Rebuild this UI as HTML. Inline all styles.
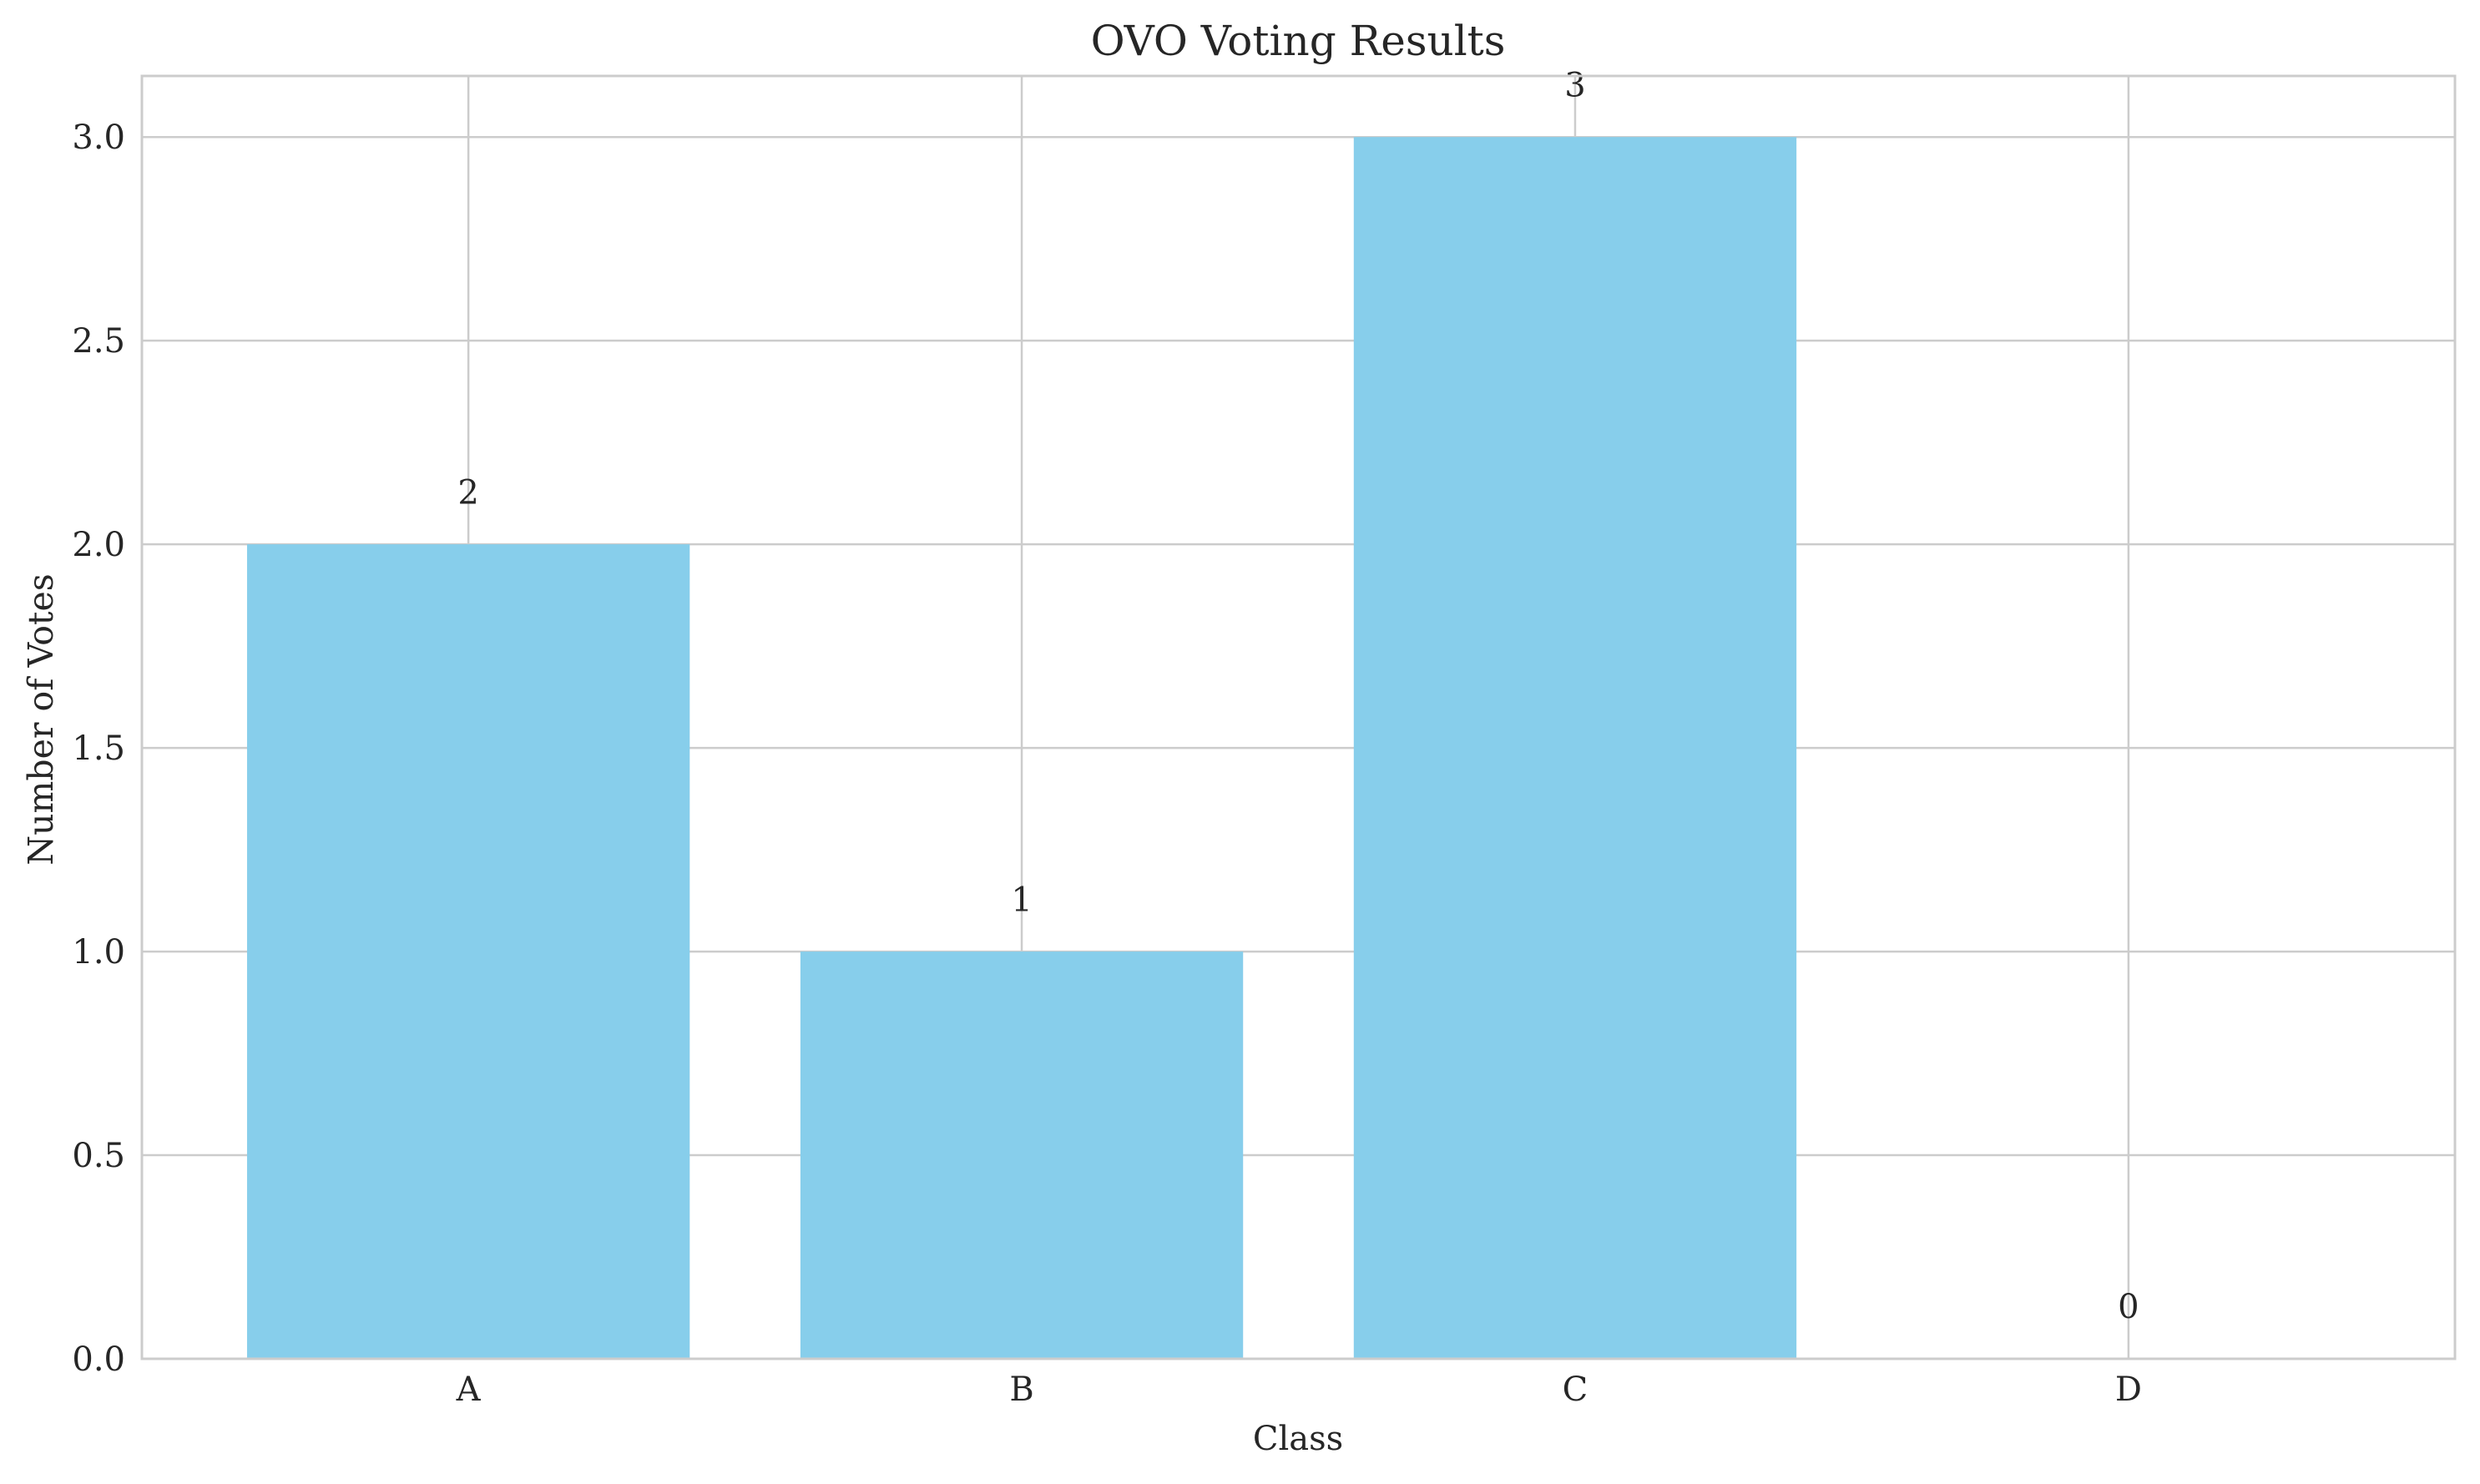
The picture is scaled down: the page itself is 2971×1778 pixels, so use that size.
<!DOCTYPE html>
<html><head><meta charset="utf-8"><style>
html,body{margin:0;padding:0;background:#fff;}
svg text{font-family:"DejaVu Serif","Liberation Serif",serif;fill:#262626;}
</style></head><body>
<svg id="chart" width="2971" height="1773" viewBox="0 0 2971 1773" xmlns="http://www.w3.org/2000/svg">
<rect x="0" y="0" width="2971" height="1773" fill="#fff"/>
<g id="grid"></g>
<g id="bars"></g>
<g id="labels"></g>
<rect x="170" y="91" width="2771" height="1537" fill="none" stroke="#cccccc" stroke-width="3"/>
<text x="1555" y="66" font-size="50" text-anchor="middle">OVO Voting Results</text>
<text x="1555" y="1737" font-size="40" text-anchor="middle">Class</text>
<text x="0" y="0" font-size="41" text-anchor="middle" transform="translate(63,862) rotate(-90)">Number of Votes</text>
</svg>
<script>
const categories = ["A","B","C","D"];
const votes = [2,1,3,0];
const yTicks = [0,0.5,1.0,1.5,2.0,2.5,3.0];
const yTickLabels = ["0.0","0.5","1.0","1.5","2.0","2.5","3.0"];

const L=170,R=2941,T=91,B=1628;
const yMax=3.15, xMin=-0.59, xMax=3.59;
const sy=v=>B-(v/yMax)*(B-T);
const sx=v=>L+(v-xMin)/(xMax-xMin)*(R-L);
const NS="http://www.w3.org/2000/svg";
const grid=document.getElementById('grid'),bars=document.getElementById('bars'),labels=document.getElementById('labels');
function mk(tag,attrs,parent){const e=document.createElementNS(NS,tag);for(const k in attrs)e.setAttribute(k,attrs[k]);parent.appendChild(e);return e;}
yTicks.forEach((t,i)=>{
  const ln=mk('line',{x1:L,x2:R,y1:sy(t),y2:sy(t),stroke:'#cccccc','stroke-width':2.5},grid);
  
  
  const tx=mk('text',{x:L-20,y:sy(t)+14,'font-size':40,'text-anchor':'end'},labels);
  tx.textContent=yTickLabels[i];
  
  
});
categories.forEach((c,i)=>{
  const ln=mk('line',{x1:sx(i),x2:sx(i),y1:T,y2:B,stroke:'#cccccc','stroke-width':2.5},grid);
  
  
  const w=sx(0.4)-sx(-0.4);
  const r=mk('rect',{x:sx(i-0.4),y:sy(votes[i]),width:w,height:B-sy(votes[i]),fill:'#87ceeb'},bars);
  
  
  const tl=mk('text',{x:sx(i),y:B+50,'font-size':40,'text-anchor':'middle'},labels);
  tl.textContent=c;
  
  
  const v=mk('text',{x:sx(i),y:sy(votes[i]+0.1),'font-size':40,'text-anchor':'middle'},labels);
  v.textContent=String(votes[i]);
  
  
});
</script>
</body></html>
